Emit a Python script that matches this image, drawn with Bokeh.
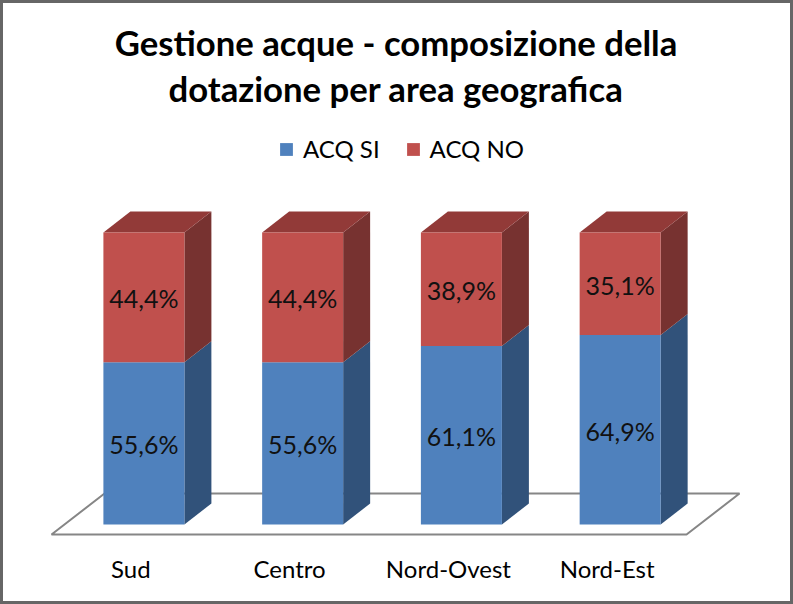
from bokeh.embed import file_html
from bokeh.resources import INLINE
from bokeh.plotting import figure
from bokeh.models import ColumnDataSource, Legend, LegendItem, Range1d, FixedTicker, Title
from bokeh.core.properties import value

categories = ["Sud", "Centro", "Nord-Ovest", "Nord-Est"]
acq_si = [55.6, 55.6, 61.1, 64.9]
acq_no = [44.4, 44.4, 38.9, 35.1]
labels_si = ["55,6%", "55,6%", "61,1%", "64,9%"]
labels_no = ["44,4%", "44,4%", "38,9%", "35,1%"]
series_names = ["ACQ SI", "ACQ NO"]
title_lines = ["Gestione acque - composizione della", "dotazione per area geografica"]

B = 3                      # css border width; the canvas starts inside it
PW, PH = 793, 604          # full picture
W, H = PW - 2 * B, PH - 2 * B
FT, FB = 108, 543          # frame top/bottom in canvas px
RIGHT = 8                  # right border, centres the title on the reference's axis
X0, SLOT = 130.4 - B, 158.75   # canvas px of category 0, px per category
Y0, PCT = 524.0 - B, 2.92      # canvas px of 0 %, px per 1 %
FONT = "Lato"

xr = Range1d((0 - X0) / SLOT, (PW - RIGHT - X0) / SLOT)
yr = Range1d((Y0 - FB) / PCT, (Y0 - FT) / PCT)

dx = 27 / SLOT    # depth of a bar
dy = 21 / PCT
shift = 13 / SLOT # bars sit forward-right in their slot
half = 40.5 / SLOT

p = figure(width=W, height=H, x_range=xr, y_range=yr, output_backend="svg",
           toolbar_location=None, x_axis_location="below", y_axis_location=None,
           min_border_left=0, min_border_right=RIGHT, min_border_top=FT, min_border_bottom=PH - FB,
           background_fill_color="white", border_fill_color="white",
           outline_line_color=None)
p.styles = {"position": "absolute", "left": "0px", "top": "0px",
            "border": f"{B}px solid #666666", "box-sizing": "content-box", "overflow": "hidden"}
p.grid.visible = False

p.title = None
for line, off in zip(reversed(title_lines), (6, 0)):
    p.add_layout(Title(text=line, align="center", text_font=FONT, text_font_style="bold",
                       text_font_size="34.7px", text_color="#000000", standoff=off,
                       text_line_height=0.8), "above")

ax = p.xaxis[0]
ax.ticker = FixedTicker(ticks=list(range(len(categories))))
ax.major_label_overrides = {i: c for i, c in enumerate(categories)}
ax.axis_line_color = None
ax.major_tick_line_color = None
ax.minor_tick_line_color = None
ax.major_label_text_font = FONT
ax.major_label_text_font_size = "24px"
ax.major_label_text_color = "#000000"
ax.major_label_standoff = 1

# floor
fl_dx, fl_dy = 53 / SLOT, 41 / PCT
fl_y = -10 / PCT
fx = [-0.5, 3.5, 3.5 + fl_dx, -0.5 + fl_dx]
fy = [fl_y, fl_y, fl_y + fl_dy, fl_y + fl_dy]
p.patch(fx, fy, fill_color="white", line_color="#868686", line_width=2)

n = range(len(categories))
left = [i + shift - half for i in n]
right = [i + shift + half for i in n]
tops_si = acq_si
tops_no = [a + b for a, b in zip(acq_si, acq_no)]

def side(base, top):
    xs = [[r, r + dx, r + dx, r] for r in right]
    ys = [[b, b + dy, t + dy, t] for b, t in zip(base, top)]
    return xs, ys

sx, sy = side([0, 0, 0, 0], tops_si)
p.patches(sx, sy, fill_color="#31527A", line_color=None)
sx, sy = side(tops_si, tops_no)
p.patches(sx, sy, fill_color="#773230", line_color=None)

tx = [[l, r, r + dx, l + dx] for l, r in zip(left, right)]
ty = [[t, t, t + dy, t + dy] for t in tops_no]
p.patches(tx, ty, fill_color="#923A38", line_color=None)

r_si = p.quad(left=left, right=right, bottom=[0, 0, 0, 0], top=tops_si,
              fill_color="#4F81BD", line_color=None)
r_no = p.quad(left=left, right=right, bottom=tops_si, top=tops_no,
              fill_color="#C0504D", line_color=None)

centers = [i + shift for i in n]
src_si = ColumnDataSource(dict(x=centers, y=[v / 2 for v in acq_si], t=labels_si))
src_no = ColumnDataSource(dict(x=centers, y=[a + b / 2 for a, b in zip(acq_si, acq_no)], t=labels_no))
for s in (src_si, src_no):
    p.text(x="x", y="y", text="t", source=s, text_align="center", text_baseline="middle",
           y_offset=1, text_font=value(FONT), text_font_size="25px", text_color="#111111")

leg = Legend(items=[LegendItem(label=series_names[0], renderers=[r_si]),
                    LegendItem(label=series_names[1], renderers=[r_no])],
             orientation="horizontal", location=(275, 383), border_line_color=None,
             background_fill_alpha=0, glyph_width=16, glyph_height=16, spacing=25,
             label_standoff=9, margin=0, padding=0,
             label_text_font=FONT, label_text_font_size="24px", label_text_color="#000000")
p.add_layout(leg, "center")

open("out.html", "w").write(file_html(p, INLINE))
